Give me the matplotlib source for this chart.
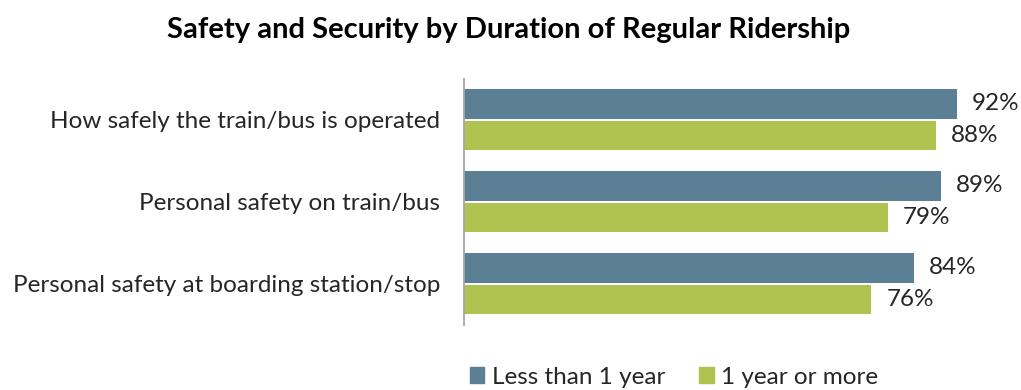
import numpy as np
import matplotlib
matplotlib.use("Agg")
import matplotlib.pyplot as plt
from matplotlib.patches import Patch

plt.rcParams['font.family'] = ['Lato', 'DejaVu Sans']

# Data
categories = ["How safely the train/bus is operated",
              "Personal safety on train/bus",
              "Personal safety at boarding station/stop"]
less_than_1yr = [92, 89, 84]
one_yr_or_more = [88, 79, 76]
series_names = ["Less than 1 year", "1 year or more"]

blue = "#5B7F95"
green = "#B0C24F"
text_color = "#262626"

fig = plt.figure(figsize=(10.21, 3.9), dpi=100)
ax = fig.add_axes([0.4545, 0.1667, 0.525, 0.6308])

y = np.arange(len(categories))
h = 0.354
off = 0.195

ax.barh(y - off, less_than_1yr, height=h, color=blue)
ax.barh(y + off, one_yr_or_more, height=h, color=green)

# value labels next to each bar
for yi, v in zip(y - off, less_than_1yr):
    ax.text(v + 2.8, yi, f"{v}%", va="center", ha="left", fontsize=17.5, color=text_color)
for yi, v in zip(y + off, one_yr_or_more):
    ax.text(v + 2.8, yi, f"{v}%", va="center", ha="left", fontsize=17.5, color=text_color)

ax.set_xlim(0, 100)
ax.set_ylim(len(categories) - 0.5, -0.5)
ax.set_yticks(y)
ax.set_yticklabels(categories, fontsize=17.5, color=text_color)
ax.tick_params(axis="y", length=0, pad=17)
ax.set_xticks([])
for s in ["top", "right", "bottom"]:
    ax.spines[s].set_visible(False)
ax.spines["left"].set_color("#A6A6A6")
ax.spines["left"].set_linewidth(1.3)

fig.text(0.498, 0.922, "Safety and Security by Duration of Regular Ridership",
         ha="center", va="center", fontsize=21, fontweight="bold", color="black")

handles = [Patch(color=blue), Patch(color=green)]
fig.legend(handles, series_names, loc="center", bbox_to_anchor=(0.66, 0.033),
           ncol=2, frameon=False, fontsize=17.5, handlelength=0.6, handleheight=0.6,
           handletextpad=0.3, columnspacing=1.4, labelcolor=text_color)

fig.savefig("out.png", dpi=100)
